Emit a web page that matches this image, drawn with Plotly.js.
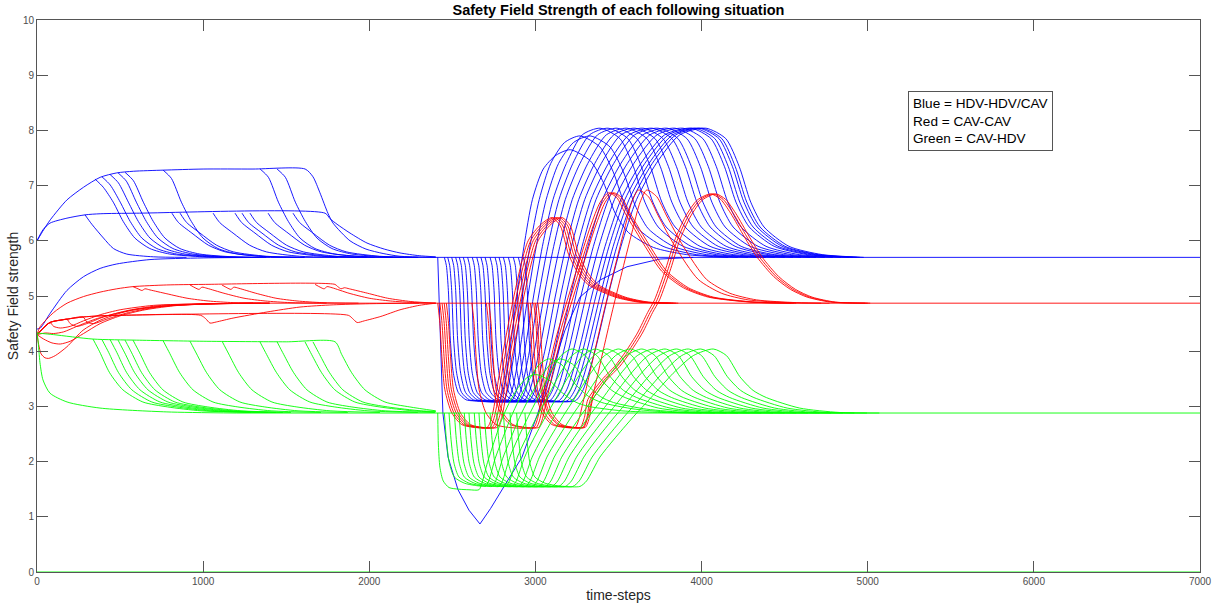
<!DOCTYPE html>
<html>
<head>
<meta charset="utf-8">
<script src="https://cdn.plot.ly/plotly-3.0.1.min.js"></script>
<style>html,body{margin:0;padding:0;background:#fff}#chart{width:1212px;height:608px}</style>
</head>
<body>
<div id="chart"></div>
<script>
// ---------- axis ticks ----------
const xTicks = [0,1000,2000,3000,4000,5000,6000,7000];
const yTicks = [0,1,2,3,4,5,6,7,8,9,10];

// ---------- BLUE (HDV-HDV/CAV), early phase ----------
const blueEarlyX = [
  [0,40,80,180,280,380,480,580,760,1000,1300,1614,1661,1703,1751,1782,1884,1980,2083,2185,2400],
  [349,399,459,519,589,679,799,999,1199],
  [391,441,501,561,631,721,841,1041,1241],
  [440,490,550,610,680,770,890,1090,1290],
  [488,538,598,658,728,818,938,1138,1338],
  [530,580,640,700,770,860,980,1180,1380],
  [759,809,869,929,999,1089,1209,1409,1609],
  [1343,1393,1453,1513,1583,1673,1793,1993,2193],
  [1445,1495,1555,1615,1685,1775,1895,2095,2295],
  [0,36,78,180,289,380,600,1734,1764,1806,1884,1986,2090,2185,2300,2400],
  [289,330,400,460,540,700,900],
  [812,852,932,1032,1132,1332,1562],
  [861,901,981,1081,1181,1381,1611],
  [1060,1100,1180,1280,1380,1580,1810],
  [1192,1232,1312,1412,1512,1712,1942],
  [1234,1274,1354,1454,1554,1754,1984],
  [1282,1322,1402,1502,1602,1802,2032],
  [1391,1431,1511,1611,1711,1911,2141],
  [1541,1581,1661,1761,1861,2061,2291],
  [0,20,80,180,280,380,480,680,1000,1500]
];
const blueEarlyY = [
  [6.0,6.2,6.38,6.74,6.97,7.15,7.23,7.26,7.28,7.3,7.3,7.3,7.16,6.87,6.5,6.32,6.0,5.85,5.77,5.72,5.7],
  [7.12,6.97,6.7,6.35,6.05,5.86,5.76,5.71,5.7],
  [7.16,7.01,6.7,6.35,6.05,5.86,5.76,5.71,5.7],
  [7.2,7.05,6.7,6.35,6.05,5.86,5.76,5.71,5.7],
  [7.23,7.08,6.7,6.35,6.05,5.86,5.76,5.71,5.7],
  [7.24,7.09,6.7,6.35,6.05,5.86,5.76,5.71,5.7],
  [7.28,7.13,6.7,6.35,6.05,5.86,5.76,5.71,5.7],
  [7.3,7.15,6.7,6.35,6.05,5.86,5.76,5.71,5.7],
  [7.3,7.15,6.7,6.35,6.05,5.86,5.76,5.71,5.7],
  [6.0,6.2,6.32,6.41,6.47,6.49,6.5,6.5,6.4,6.3,6.14,5.96,5.85,5.78,5.73,5.71],
  [6.47,6.3,6.05,5.86,5.76,5.71,5.7],
  [6.5,6.33,6.14,5.92,5.8,5.72,5.7],
  [6.5,6.33,6.14,5.92,5.8,5.72,5.7],
  [6.5,6.33,6.14,5.92,5.8,5.72,5.7],
  [6.5,6.33,6.14,5.92,5.8,5.72,5.7],
  [6.5,6.33,6.14,5.92,5.8,5.72,5.7],
  [6.5,6.33,6.14,5.92,5.8,5.72,5.7],
  [6.5,6.33,6.14,5.92,5.8,5.72,5.7],
  [6.5,6.33,6.14,5.92,5.8,5.72,5.7],
  [4.4,4.42,4.69,5.1,5.35,5.5,5.58,5.66,5.69,5.7]
];
const blueFlatX = [1500,7000];
const blueFlatY = [5.7,5.7];

// ---------- BLUE, late phase ----------
const blueVX = [2412,2416,2420,2425,2435,2443,2474,2534,2600,2666,2730,2799,2919,3015,3100,3178,3268,3389,3551,3750,3950];
const blueVY = [5.7,5.3,4.8,4.38,3.5,2.88,2.08,1.49,1.12,0.87,1.15,1.49,2.08,2.88,3.66,4.38,4.98,5.29,5.53,5.67,5.7];
const blueLateProfiles = [
  [5.7,5.55,5.1,4.2,3.6,3.25,3.12,3.1, 3.1,3.3,4.0,5.0,5.9,6.75,7.3,7.55,7.65, 7.45,7.05,6.5,6.15,5.88,5.75,5.7],
  [5.7,5.55,5.1,4.2,3.6,3.25,3.12,3.1, 3.1,3.3,4.0,5.0,5.9,6.75,7.4,7.78,7.9, 7.7,7.25,6.65,6.22,5.9,5.75,5.7],
  [5.7,5.55,5.1,4.2,3.6,3.25,3.12,3.1, 3.1,3.3,4.0,5.0,5.9,6.75,7.4,7.92,8.04, 7.85,7.35,6.7,6.25,5.9,5.75,5.7]
];
const blueLateProfileOf = [0,1,1,2,2,2,2,2,2,2,2,2,2,2,2,2,2,2,2];
const blueLateX = [
  [2452,2464,2476,2488,2506,2536,2582,2632, 2780,2806,2845,2888,2931,2982,3047,3124,3210, 3330,3410,3480,3560,3710,3910,4160],
  [2472,2484,2496,2508,2526,2556,2602,2652, 2805,2833,2874,2921,2967,3023,3092,3175,3268, 3388,3468,3538,3618,3768,3968,4218],
  [2496,2508,2520,2532,2550,2580,2626,2676, 2830,2860,2905,2955,3005,3065,3139,3229,3329, 3449,3529,3599,3679,3829,4029,4279],
  [2520,2532,2544,2556,2574,2604,2650,2700, 2855,2887,2935,2989,3042,3106,3186,3282,3389, 3509,3589,3659,3739,3889,4089,4339],
  [2542,2554,2566,2578,2596,2626,2672,2722, 2880,2913,2964,3019,3075,3142,3225,3326,3437, 3557,3637,3707,3787,3937,4137,4387],
  [2566,2578,2590,2602,2620,2650,2696,2746, 2905,2940,2993,3052,3110,3180,3268,3374,3491, 3611,3691,3761,3841,3991,4191,4441],
  [2592,2604,2616,2628,2646,2676,2722,2772, 2930,2967,3023,3085,3147,3222,3315,3427,3551, 3671,3751,3821,3901,4051,4251,4501],
  [2620,2632,2644,2656,2674,2704,2750,2800, 2960,2998,3056,3120,3184,3261,3357,3472,3600, 3720,3800,3870,3950,4100,4300,4550],
  [2647,2659,2671,2683,2701,2731,2777,2827, 2985,3025,3084,3151,3217,3297,3396,3515,3648, 3768,3848,3918,3998,4148,4348,4598],
  [2672,2684,2696,2708,2726,2756,2802,2852, 3010,3052,3114,3183,3252,3335,3439,3564,3702, 3822,3902,3972,4052,4202,4402,4652],
  [2697,2709,2721,2733,2751,2781,2827,2877, 3035,3077,3140,3211,3281,3365,3471,3597,3738, 3858,3938,4008,4088,4238,4438,4688],
  [2727,2739,2751,2763,2781,2811,2857,2907, 3060,3104,3170,3243,3316,3404,3514,3646,3792, 3912,3992,4062,4142,4292,4492,4742],
  [2757,2769,2781,2793,2811,2841,2887,2937, 3085,3130,3198,3274,3349,3440,3553,3689,3840, 3960,4040,4110,4190,4340,4540,4790],
  [2781,2793,2805,2817,2835,2865,2911,2961, 3110,3157,3227,3305,3382,3476,3592,3732,3888, 4008,4088,4158,4238,4388,4588,4838],
  [2807,2819,2831,2843,2861,2891,2937,2987, 3140,3188,3260,3339,3419,3515,3634,3778,3937, 4057,4137,4207,4287,4437,4637,4887],
  [2837,2849,2861,2873,2891,2921,2967,3017, 3165,3213,3284,3364,3443,3539,3658,3801,3960, 4080,4160,4230,4310,4460,4660,4910],
  [2867,2879,2891,2903,2921,2951,2997,3047, 3190,3238,3309,3389,3468,3564,3683,3826,3985, 4105,4185,4255,4335,4485,4685,4935],
  [2897,2909,2921,2933,2951,2981,3027,3077, 3215,3262,3333,3412,3490,3585,3703,3845,4002, 4122,4202,4272,4352,4502,4702,4952],
  [2927,2939,2951,2963,2981,3011,3057,3107, 3240,3287,3358,3437,3515,3609,3727,3869,4026, 4146,4226,4296,4376,4526,4726,4976]
];

// ---------- RED (CAV-CAV), early phase ----------
const redEarlyX = [
  [0,18,100,181,280,379,480,578,780,1000,1794,1810,1830,1850,1880,1990,2110,2250,2400],
  [578,608,632,650,680,782,903,1030,1180,1400],
  [921,951,975,993,1023,1125,1246,1373,1523,1743],
  [1113,1143,1167,1185,1215,1317,1438,1565,1715,1935],
  [1674,1704,1728,1746,1776,1878,1999,2126,2276,2400],
  [0,10,25,48,70,110,180,277,379,480,578,780,981,1300],
  [0,40,90,140,200,280,380,500,650,850,1100,1400],
  [0,50,100,160,240,350,500,700,950,1300],
  [0,40,78,100,140,200,280,380,500,700,1000,1300],
  [0,78,140,180,200,240,300,400,550,750,1050,1350],
  [0,78,180,277,300,340,420,550,750,1050,1400],
  [0,78,180,277,379,500,985,1015,1041,1080,1180,1384,1583,1783,2000,2300],
  [0,78,180,277,379,500,1874,1900,1927,1970,2070,2185,2300,2400]
];
const redEarlyY = [
  [4.3,4.44,4.7,4.87,4.99,5.07,5.13,5.17,5.2,5.21,5.21,5.17,5.13,5.15,5.13,5.05,4.96,4.9,4.87],
  [5.17,5.13,5.1,5.13,5.11,5.04,4.96,4.91,4.88,4.87],
  [5.2,5.15,5.12,5.16,5.14,5.05,4.96,4.91,4.88,4.87],
  [5.2,5.15,5.12,5.16,5.14,5.05,4.96,4.91,4.88,4.87],
  [5.21,5.16,5.13,5.17,5.15,5.05,4.96,4.91,4.88,4.87],
  [4.3,4.12,3.95,3.88,3.87,3.92,4.08,4.38,4.56,4.67,4.75,4.82,4.85,4.87],
  [4.3,4.22,4.15,4.13,4.18,4.32,4.5,4.64,4.75,4.83,4.86,4.87],
  [4.3,4.33,4.32,4.35,4.45,4.58,4.7,4.8,4.85,4.87],
  [4.3,4.43,4.52,4.45,4.42,4.45,4.55,4.66,4.75,4.83,4.86,4.87],
  [4.3,4.52,4.56,4.58,4.5,4.45,4.5,4.62,4.74,4.83,4.86,4.87],
  [4.3,4.52,4.58,4.62,4.53,4.5,4.58,4.7,4.81,4.86,4.87],
  [4.3,4.52,4.58,4.62,4.64,4.65,4.65,4.59,4.51,4.53,4.6,4.71,4.8,4.84,4.86,4.87],
  [4.3,4.52,4.58,4.62,4.64,4.65,4.65,4.59,4.52,4.55,4.63,4.75,4.83,4.87]
];
const redFlatX = [1300,7000];
const redFlatY = [4.87,4.87];

// ---------- RED, late phase (four bundles) ----------
const redBundle1Y = [4.87,4.5,3.9,3.3,2.88,2.67,2.62, 2.62,2.8,3.9,5.1,6.0,6.3,6.42, 6.27,5.75,5.4,5.2,4.98,4.89,4.87];
const redBundle1X = [
  [2412,2425,2437,2455,2497,2557,2632, 2710,2737,2800,2878,2956,3034,3100, 3150,3200,3260,3320,3480,3620,3800],
  [2425,2438,2450,2468,2510,2570,2645, 2725,2752,2815,2893,2971,3049,3115, 3165,3215,3275,3335,3495,3635,3815],
  [2438,2451,2463,2481,2523,2583,2658, 2740,2767,2830,2908,2986,3064,3130, 3180,3230,3290,3350,3510,3650,3830],
  [2451,2464,2476,2494,2536,2596,2671, 2755,2782,2845,2923,3001,3079,3145, 3195,3245,3305,3365,3525,3665,3845],
  [2464,2477,2489,2507,2549,2609,2684, 2770,2797,2860,2938,3016,3094,3160, 3210,3260,3320,3380,3540,3680,3860]
];
const redBundle2Y = [4.87,4.5,3.9,3.3,2.88,2.67,2.62, 2.62,2.75,3.15,4.2,5.2,6.25,6.7,6.87, 6.78,6.5,5.9,5.45,5.15,4.98,4.89,4.87];
const redBundle2X = [
  [2618,2631,2643,2661,2703,2763,2838, 2990,3010,3040,3120,3220,3330,3390,3440, 3490,3540,3660,3760,3890,4040,4290,4540],
  [2705,2718,2730,2748,2790,2850,2925, 3005,3025,3055,3135,3235,3345,3405,3455, 3505,3555,3675,3775,3905,4055,4305,4555],
  [2720,2733,2745,2763,2805,2865,2940, 3020,3040,3070,3150,3250,3360,3420,3470, 3520,3570,3690,3790,3920,4070,4320,4570]
];
const redBundle3Y = [4.87,4.5,3.9,3.3,2.88,2.67,2.62, 2.62,2.75,3.12,4.69,6.14,6.7,6.92, 6.8,6.45,5.9,5.3,5.05,4.93,4.88,4.87];
const redBundle3X = [
  [2955,2968,2980,2998,3040,3100,3175, 3240,3260,3290,3410,3530,3580,3620, 3680,3740,3840,3980,4120,4280,4520,4720],
  [2970,2983,2995,3013,3055,3115,3190, 3290,3310,3340,3460,3580,3630,3670, 3730,3790,3890,4030,4170,4330,4570,4770]
];
const redBundle4Y = [4.87,4.5,3.9,3.3,2.88,2.67,2.62, 2.62,2.8,3.12,3.5,3.72,4.0,4.33,4.7,4.93,5.5,6.0,6.45,6.74,6.85, 6.75,6.5,6.07,5.7,5.35,5.12,4.98,4.89,4.87];
const redBundle4X = [
  [2990,3003,3015,3033,3075,3135,3210, 3270,3295,3315,3405,3476,3545,3614,3675,3717,3785,3837,3905,3975,4055, 4115,4175,4258,4335,4435,4535,4635,4775,4985],
  [3000,3013,3025,3043,3085,3145,3220, 3285,3310,3330,3420,3491,3560,3629,3690,3732,3800,3852,3920,3990,4070, 4130,4190,4273,4350,4450,4550,4650,4790,5000],
  [3015,3028,3040,3058,3100,3160,3235, 3300,3325,3345,3435,3506,3575,3644,3705,3747,3815,3867,3935,4005,4085, 4145,4205,4288,4365,4465,4565,4665,4805,5015]
];

// ---------- GREEN (CAV-HDV), early phase ----------
const greenEarlyX = [
  [0,100,337,600,1000,1500,1794,1834,1894,1974,2094,2244,2400],
  [337,377,437,517,637,787,987,1287],
  [391,431,491,571,691,841,1041,1341],
  [440,480,540,620,740,890,1090,1390],
  [488,528,588,668,788,938,1138,1438],
  [530,570,630,710,830,980,1180,1480],
  [578,618,678,758,878,1028,1228,1528],
  [759,799,859,939,1059,1209,1409,1709],
  [921,961,1021,1101,1221,1371,1571,1871],
  [1114,1154,1214,1294,1414,1564,1764,2064],
  [1342,1382,1442,1522,1642,1792,1992,2292],
  [1445,1485,1545,1625,1745,1895,2095,2395],
  [1613,1653,1713,1793,1913,2063,2263,2400],
  [1661,1701,1761,1841,1961,2111,2311,2400],
  [0,6,18,36,78,181,379,782,1200]
];
const greenEarlyY = [
  [4.33,4.3,4.22,4.2,4.18,4.17,4.17,3.94,3.61,3.3,3.08,2.99,2.92],
  [4.22,3.99,3.61,3.3,3.08,2.99,2.92,2.89],
  [4.21,3.98,3.61,3.3,3.08,2.99,2.92,2.89],
  [4.21,3.98,3.61,3.3,3.08,2.99,2.92,2.89],
  [4.2,3.97,3.61,3.3,3.08,2.99,2.92,2.89],
  [4.2,3.97,3.61,3.3,3.08,2.99,2.92,2.89],
  [4.2,3.97,3.61,3.3,3.08,2.99,2.92,2.89],
  [4.19,3.96,3.61,3.3,3.08,2.99,2.92,2.89],
  [4.18,3.95,3.61,3.3,3.08,2.99,2.92,2.89],
  [4.18,3.95,3.61,3.3,3.08,2.99,2.92,2.89],
  [4.17,3.94,3.61,3.3,3.08,2.99,2.92,2.89],
  [4.17,3.94,3.61,3.3,3.08,2.99,2.92,2.89],
  [4.17,3.94,3.61,3.3,3.08,2.99,2.92,2.9],
  [4.17,3.94,3.61,3.3,3.08,2.99,2.92,2.91],
  [4.33,4.2,3.79,3.48,3.24,3.08,2.97,2.9,2.88]
];
const greenFlatX = [1200,7000];
const greenFlatY = [2.88,2.88];
const greenZeroX = [0,7000];
const greenZeroY = [0,0];

// ---------- GREEN, late phase ----------
const greenLateProfiles = [
  [2.88,2.3,1.9,1.65,1.53,1.5,1.49, 1.49,1.6,1.98,2.3,2.75,3.05,3.35,3.52,3.58, 3.48,3.25,3.08,3.0,2.92,2.89,2.88],
  [2.88,2.4,1.97,1.72,1.61,1.57,1.55, 1.55,1.65,2.05,2.36,2.8,3.12,3.5,3.76,3.86, 3.75,3.4,3.18,3.07,2.95,2.89,2.88],
  [2.88,2.4,1.97,1.72,1.61,1.57,1.55, 1.55,1.65,2.08,2.39,2.81,3.15,3.6,3.92,4.04, 3.92,3.54,3.29,3.16,2.97,2.89,2.88]
];
const greenLateProfileOf = [0,1,1,2,2,2,2,2,2,2,2,2,2,2,2,2];
const greenLateX = [
  [2412,2416,2425,2445,2480,2540,2600, 2660,2677,2711,2745,2796,2840,2898,2949,3000, 3080,3160,3240,3320,3520,3760,4000],
  [2452,2464,2482,2512,2572,2632,2692, 2700,2719,2757,2795,2852,2901,2966,3023,3080, 3160,3240,3320,3400,3600,3840,4080],
  [2480,2492,2510,2540,2600,2660,2720, 2740,2761,2802,2843,2904,2957,3027,3089,3150, 3230,3310,3390,3470,3670,3910,4150],
  [2512,2524,2542,2572,2632,2692,2752, 2780,2802,2846,2890,2956,3013,3088,3154,3220, 3300,3380,3460,3540,3740,3980,4220],
  [2540,2552,2570,2600,2660,2720,2780, 2820,2844,2891,2938,3008,3069,3149,3220,3290, 3370,3450,3530,3610,3810,4050,4290],
  [2572,2584,2602,2632,2692,2752,2812, 2860,2885,2935,2985,3060,3125,3210,3285,3360, 3440,3520,3600,3680,3880,4120,4360],
  [2600,2612,2630,2660,2720,2780,2840, 2900,2927,2980,3033,3112,3181,3271,3351,3430, 3510,3590,3670,3750,3950,4190,4430],
  [2632,2644,2662,2692,2752,2812,2872, 2940,2968,3024,3080,3164,3237,3332,3416,3500, 3580,3660,3740,3820,4020,4260,4500],
  [2660,2672,2690,2720,2780,2840,2900, 2980,3010,3069,3128,3216,3293,3393,3482,3570, 3650,3730,3810,3890,4090,4330,4570],
  [2692,2704,2722,2752,2812,2872,2932, 3020,3051,3113,3175,3268,3349,3454,3547,3640, 3720,3800,3880,3960,4160,4400,4640],
  [2727,2739,2757,2787,2847,2907,2967, 3060,3093,3158,3223,3320,3405,3515,3613,3710, 3790,3870,3950,4030,4230,4470,4710],
  [2767,2779,2797,2827,2887,2947,3007, 3100,3134,3202,3270,3372,3460,3576,3678,3780, 3860,3940,4020,4100,4300,4540,4780],
  [2807,2819,2837,2867,2927,2987,3047, 3140,3176,3247,3318,3424,3516,3637,3744,3850, 3930,4010,4090,4170,4370,4610,4850],
  [2847,2859,2877,2907,2967,3027,3087, 3180,3217,3291,3365,3476,3572,3698,3809,3920, 4000,4080,4160,4240,4440,4680,4920],
  [2887,2899,2917,2947,3007,3067,3127, 3225,3264,3341,3418,3533,3633,3764,3880,3995, 4075,4155,4235,4315,4515,4755,4995],
  [2937,2949,2967,2997,3057,3117,3177, 3268,3308,3388,3469,3589,3693,3829,3950,4070, 4150,4230,4310,4390,4590,4830,5070]
];

// ---------- texts ----------
const chartTitle = 'Safety Field Strength of each following situation';
const xTitle = 'time-steps';
const yTitle = 'Safety Field strength';
const legendLines = ['Blue = HDV-HDV/CAV','Red = CAV-CAV','Green = CAV-HDV'];

// ---------- build traces ----------
const BLUE = '#0000ff', RED = '#ff0000', GREEN = '#00ff00';
const traces = [];
function line(x, y, color, shape) {
  traces.push({
    x: x, y: y, type: 'scatter', mode: 'lines', hoverinfo: 'skip', showlegend: false,
    line: {color: color, width: 0.9, shape: shape || 'spline', smoothing: 0.7}
  });
}
blueEarlyX.forEach((x, i) => line(x, blueEarlyY[i], BLUE));
line(blueFlatX, blueFlatY, BLUE, 'linear');
line(blueVX, blueVY, BLUE, 'linear');
blueLateX.forEach((x, i) => line(x, blueLateProfiles[blueLateProfileOf[i]], BLUE));

redEarlyX.forEach((x, i) => line(x, redEarlyY[i], RED));
line(redFlatX, redFlatY, RED, 'linear');
redBundle1X.forEach(x => line(x, redBundle1Y, RED));
redBundle2X.forEach(x => line(x, redBundle2Y, RED));
redBundle3X.forEach(x => line(x, redBundle3Y, RED));
redBundle4X.forEach(x => line(x, redBundle4Y, RED));

greenEarlyX.forEach((x, i) => line(x, greenEarlyY[i], GREEN));
line(greenFlatX, greenFlatY, GREEN, 'linear');
line(greenZeroX, greenZeroY, GREEN, 'linear');
greenLateX.forEach((x, i) => line(x, greenLateProfiles[greenLateProfileOf[i]], GREEN));

const FONT = 'Liberation Sans, Arial, Helvetica, sans-serif';
const axisCommon = {
  showgrid: false, zeroline: false, showline: true, linecolor: '#555', linewidth: 1,
  mirror: 'ticks', ticks: 'inside', ticklen: 11, tickcolor: '#555', tickwidth: 1,
  tickfont: {family: FONT, size: 10, color: '#4d4d4d'}, automargin: false
};
const layout = {
  width: 1212, height: 608,
  margin: {l: 37, r: 12, t: 20, b: 36},
  paper_bgcolor: '#ffffff', plot_bgcolor: '#ffffff',
  showlegend: false, hovermode: false,
  title: {text: '<b>' + chartTitle + '</b>', font: {family: FONT, size: 14.5, color: '#000'},
          x: 0.5, xref: 'paper', xanchor: 'center', y: 0.983, yref: 'container', yanchor: 'middle'},
  xaxis: Object.assign({}, axisCommon, {
    range: [0, 7000], tickvals: xTicks, ticktext: xTicks.map(String),
    title: {text: xTitle, font: {family: FONT, size: 14, color: '#262626'}, standoff: 4}
  }),
  yaxis: Object.assign({}, axisCommon, {
    range: [0, 10], tickvals: yTicks, ticktext: yTicks.map(String),
    title: {text: yTitle, font: {family: FONT, size: 14, color: '#262626'}, standoff: 0}
  }),
  annotations: [{
    text: legendLines.join('<br>'), xref: 'paper', yref: 'paper',
    x: 0.749, y: 0.871, xanchor: 'left', yanchor: 'top', align: 'left', showarrow: false,
    font: {family: FONT, size: 13.6, color: '#000'},
    bordercolor: '#555', borderwidth: 1, borderpad: 4, bgcolor: '#ffffff'
  }]
};
Plotly.newPlot('chart', traces, layout, {staticPlot: true, displayModeBar: false});
</script>
</body>
</html>
